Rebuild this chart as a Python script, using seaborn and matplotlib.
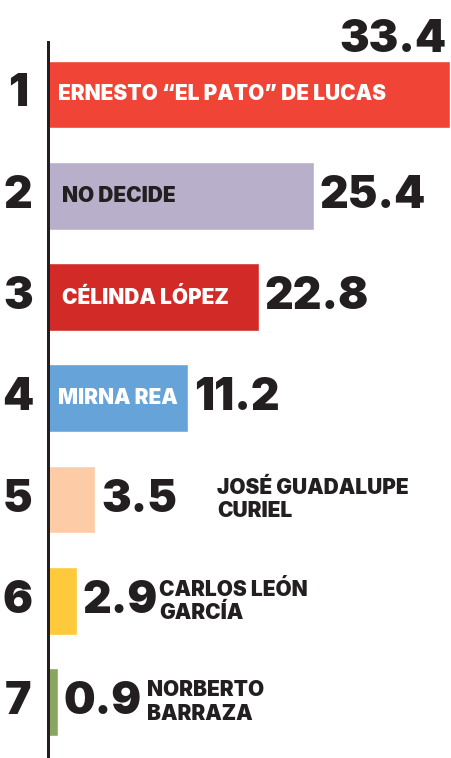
import matplotlib
matplotlib.use("Agg")
import matplotlib.pyplot as plt
import seaborn as sns
import pandas as pd

# data
ranks = ["1", "2", "3", "4", "5", "6", "7"]
names = ["ERNESTO “EL PATO” DE LUCAS", "NO DECIDE", "CÉLINDA LÓPEZ", "MIRNA REA",
         "JOSÉ GUADALUPE\nCURIEL", "CARLOS LEÓN\nGARCÍA", "NORBERTO\nBARRAZA"]
values = [33.4, 25.4, 22.8, 11.2, 3.5, 2.9, 0.9]
# the bars in the original are not drawn to scale: lengths as drawn
bar_lengths = [33.4, 22.1, 17.5, 11.6, 3.9, 2.4, 0.8]

colors = ["#EF4436", "#B8AFCB", "#D22B27", "#65A3D8", "#FDCBA5", "#FEC93A", "#89A661"]
name_colors = ["white", "#231F20", "white", "white", "#231F20", "#231F20", "#231F20"]
name_inside = [True, True, True, True, False, False, False]
name_dx = [10, 14, 14, 10, 122, 82, 89]  # px

df = pd.DataFrame({"name": names, "length": bar_lengths})

sns.set_style("white")
plt.rcParams["font.family"] = ["Inter", "DejaVu Sans"]
dark = "#231F20"
px = 0.72  # points per pixel at dpi 100

fig = plt.figure(figsize=(4.52, 7.58), dpi=100)
ax = fig.add_axes([48 / 452, 0, 404 / 452, 716 / 758])

sns.barplot(data=df, y="name", x="length", hue="name", palette=colors,
            orient="h", width=0.67, legend=False, saturation=1, ax=ax)

ax.set_xlim(0, 33.4 * 404 / 402)
ax.set_ylim(6 + 56 / 101.25, -52.5 / 101.25)
ax.set_xlabel("")
ax.set_ylabel("")
ax.set_xticks([])
ax.set_yticks([])
for s in ["top", "right", "bottom"]:
    ax.spines[s].set_visible(False)
ax.spines["left"].set_color(dark)
ax.spines["left"].set_linewidth(3 * px)
ax.spines["left"].set_zorder(5)

big = dict(fontsize=32, fontweight=900, color=dark)
for i in range(len(ranks)):
    # rank number
    ax.annotate(ranks[i], xy=(0, i), xycoords=("axes fraction", "data"),
                xytext=(-30 * px, 0), textcoords="offset points",
                ha="center", va="center", **big)
    # value label
    if i == 0:
        ax.annotate(f"{values[i]}", xy=(bar_lengths[i], i - 0.335), xytext=(-3 * px, 9 * px),
                    textcoords="offset points", ha="right", va="baseline", **big)
    else:
        ax.annotate(f"{values[i]}", xy=(bar_lengths[i], i), xytext=(6 * px, 0),
                    textcoords="offset points", ha="left", va="center", **big)
    # name label
    x0 = 0 if name_inside[i] else bar_lengths[i]
    ax.annotate(names[i], xy=(x0, i), xytext=(name_dx[i] * px, 0),
                textcoords="offset points", ha="left", va="center",
                fontsize=15, fontweight=900, color=name_colors[i], linespacing=1.2)

fig.savefig("out.png", dpi=100)
